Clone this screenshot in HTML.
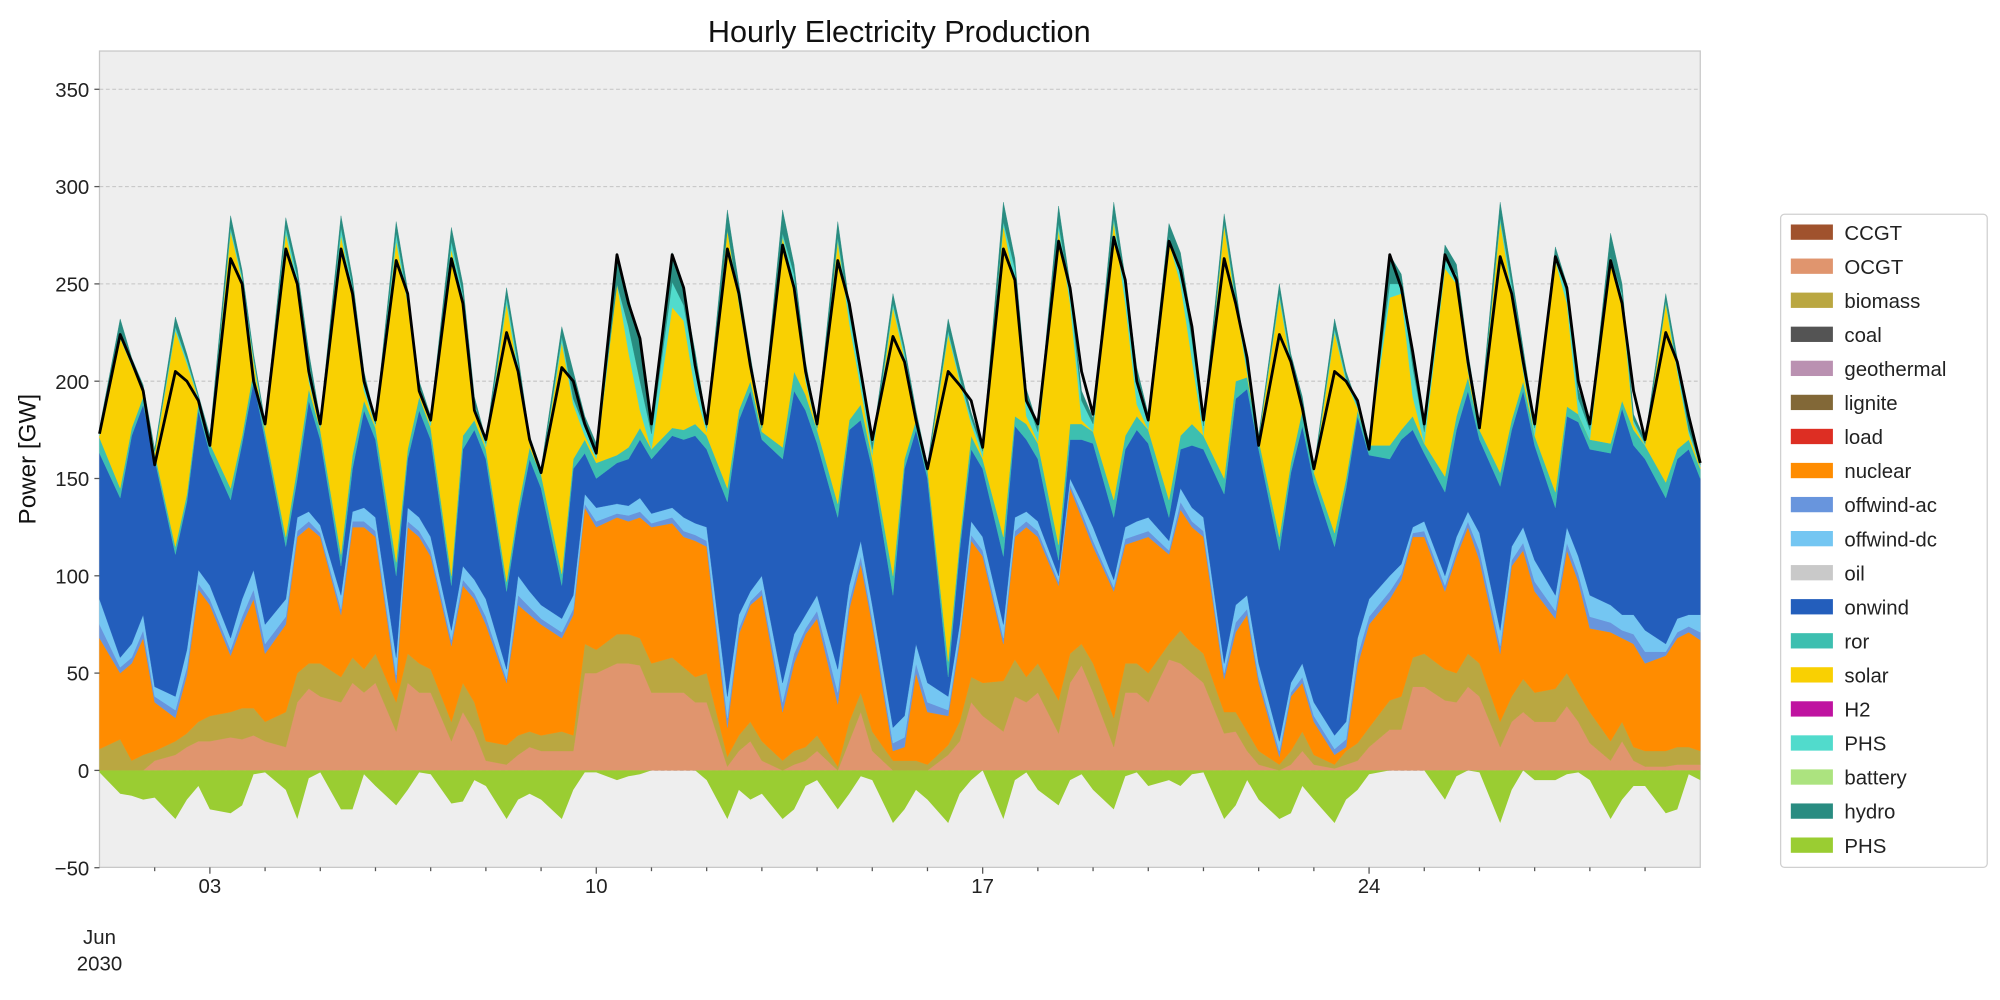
<!DOCTYPE html>
<html><head><meta charset="utf-8"><style>
html,body{margin:0;padding:0;background:#fff;}
svg{display:block;font-family:"Liberation Sans","DejaVu Sans",sans-serif;}
</style></head><body>
<svg id="chart" width="2000" height="1000" viewBox="0 0 1568 784" xmlns="http://www.w3.org/2000/svg">
<rect x="0" y="0" width="1568" height="784" fill="#fff"/>
<text x="705" y="33" font-size="24" text-anchor="middle" fill="#111">Hourly Electricity Production</text>
<rect x="78" y="40" width="1255" height="640" fill="#eeeeee" stroke="#c8c8c8" stroke-width="1"/>
<g id="grid"></g>
<g id="areas"></g>
<g id="lines"></g>
<g id="axes"></g>
<text transform="translate(28,360) rotate(-90)" font-size="19" text-anchor="middle" fill="#111">Power [GW]</text>
<g id="legend"></g>
</svg>
<script>
const sampleHours = [0, 9, 14, 19];
const dayCount = 29;
const yTicks = [-50, 0, 50, 100, 150, 200, 250, 300, 350];
const xTickDays = [2, 9, 16, 23];
const xTickLabels = ["03", "10", "17", "24"];
const ocgt = [0,0,0,0, 5,8,12,15, 15,17,16,18, 15,12,35,42, 38,35,45,40, 45,20,45,40, 40,15,30,20, 5,3,8,12, 10,10,10,50, 50,55,55,54, 40,40,40,35, 35,2,10,15, 5,0,3,5, 10,0,15,30, 10,0,0,0, 0,8,15,35, 28,20,38,35, 40,19,45,54, 40,12,40,40, 35,57,55,50, 45,19,20,10, 3,0,3,10, 3,1,3,5, 12,21,21,43, 43,36,35,43, 38,12,25,30, 25,25,33,25, 14,5,15,5, 2,2,3,3, 3];
const biomass = [11,16,5,8, 5,7,7,10, 13,13,16,14, 10,18,15,13, 17,13,13,12, 15,15,15,15, 12,10,15,15, 10,10,10,8, 8,10,8,15, 12,15,15,14, 15,18,13,13, 15,5,8,10, 10,5,7,7, 8,2,10,10, 10,5,5,5, 3,5,10,13, 17,26,19,13, 15,17,15,11, 15,15,15,15, 15,8,17,15, 15,11,10,10, 7,3,7,10, 5,2,7,9, 10,15,17,15, 17,16,15,17, 17,13,13,17, 15,17,17,15, 16,10,10,7, 8,8,9,9, 7];
const nuclear = [57,34,50,60, 25,12,30,68, 57,29,43,56, 35,45,70,70, 65,32,67,73, 60,10,65,65, 58,39,50,53, 60,32,67,60, 57,48,62,70, 63,60,58,62, 70,69,67,70, 65,15,52,60, 75,25,45,58, 60,32,58,66, 55,5,7,45, 27,15,41,70, 65,19,63,77, 65,59,85,65, 60,65,61,63, 70,46,62,60, 60,17,41,60, 35,4,28,25, 17,5,2,40, 53,52,60,62, 60,40,60,65, 53,35,67,66, 52,36,63,57, 43,56,43,53, 45,49,56,59, 57];
const offwindAc = [7,3,3,4, 3,4,4,3, 3,3,4,5, 5,4,3,3, 2,3,3,3, 3,4,3,3, 3,3,3,3, 4,2,5,4, 3,3,3,2, 3,2,3,3, 2,3,3,3, 3,5,3,2, 3,5,5,3, 4,6,4,4, 3,4,5,5, 5,3,3,3, 3,3,3,3, 3,2,2,3, 3,2,3,3, 3,2,4,3, 3,3,5,3, 3,3,2,3, 3,3,4,5, 4,4,3,2, 3,3,3,3, 5,4,3,4, 5,4,4,4, 6,5,4,5, 6,2,3,3, 4];
const offwindDc = [13,5,7,8, 5,7,9,7, 7,6,9,10, 10,9,7,5, 4,7,5,7, 7,9,7,7, 7,5,7,7, 9,5,10,8, 7,7,7,5, 7,5,5,7, 5,5,7,6, 7,11,7,5, 7,10,10,7, 8,12,8,8, 7,8,11,10, 10,7,6,7, 7,7,7,5, 5,3,3,5, 7,4,6,7, 7,5,7,7, 7,5,9,7, 7,5,5,7, 7,7,9,9, 9,8,5,3, 5,5,7,5, 9,8,7,8, 11,8,8,9, 11,9,8,10, 11,4,7,6, 9];
const onwind = [75,82,107,108, 117,73,76,82, 68,71,80,97, 95,27,20,57, 44,15,22,50, 40,42,25,55, 50,23,60,77, 72,40,30,68, 60,17,65,21, 15,21,24,30, 28,37,40,45, 40,100,100,103, 70,115,125,105, 78,78,80,62, 70,68,127,110, 105,10,38,37, 35,35,47,37, 32,8,20,32, 43,32,40,47, 38,12,20,32, 35,87,106,106, 110,98,108,122, 113,97,120,114, 74,60,64,50, 35,43,55,62, 48,74,60,70, 59,45,57,69, 75,78,106,87, 88,75,82,85, 70];
const ror = [8,5,4,4, 3,4,4,4, 5,6,4,6, 4,5,6,6, 5,6,7,5, 6,7,5,7, 6,5,7,5, 5,5,5,6, 7,6,5,7, 8,4,6,6, 5,4,5,6, 7,7,5,5, 4,6,10,8, 7,7,5,8, 5,10,5,5, 5,8,5,7, 5,10,5,8, 8,8,8,8, 6,9,7,7, 7,9,7,11, 7,8,9,6, 5,7,5,8, 5,7,5,3, 5,7,5,7, 5,8,7,7, 5,7,5,5, 5,8,5,4, 5,5,4,8, 7,8,5,5, 5];
const solar = [1,77,32,3, 0,111,67,2, 0,132,80,4, 2,156,94,4, 1,164,83,5, 1,165,75,3, 1,168,68,5, 1,143,70,2, 0,119,28,2, 2,88,49,9, 0,62,56,17, 2,133,55,5, 1,108,45,7, 0,135,50,8, 2,138,52,2, 0,168,82,6, 1,160,68,4, 1,162,62,2, 0,143,68,6, 0,133,78,33, 0,130,40,2, 0,123,50,2, 0,103,50,1, 0,76,70,10, 0,107,68,3, 0,129,65,5, 0,119,53,0, 0,96,50,3, 0,92,40,3, 1];
const phs = [2,3,1,1, 1,2,2,1, 2,2,2,2, 2,3,4,10, 2,4,4,6, 1,4,3,3, 3,4,5,4, 2,3,4,2, 1,3,3,4, 3,0,13,15, 8,13,8,12, 2,0,3,5, 1,2,5,5, 1,2,5,6, 3,2,3,1, 1,2,2,3, 3,2,8,9, 5,3,6,10, 4,2,8,12, 5,2,8,10, 5,1,3,2, 1,2,3,2, 1,2,2,1, 1,7,5,15, 6,4,5,6, 2,2,5,8, 4,2,5,8, 5,0,5,2, 1,1,3,2, 1];
const hydro = [2,7,3,2, 1,5,3,1, 2,6,3,2, 1,5,4,5, 2,6,4,4, 2,6,4,2, 2,7,5,3, 2,5,4,2, 2,5,14,6, 5,15,15,20, 5,15,8,8, 3,10,7,3, 2,12,5,5, 2,8,5,4, 3,5,3,2, 1,6,5,3, 2,10,5,5, 3,9,4,5, 3,8,5,7, 3,7,8,8, 3,5,5,2, 1,5,3,3, 1,5,3,1, 1,15,5,8, 3,8,5,4, 1,8,5,4, 2,5,5,5, 3,12,5,3, 2,4,4,4, 1];
const phsCharge = [-1,-12,-13,-15, -14,-25,-15,-8, -20,-22,-18,-2, -1,-10,-25,-4, -1,-20,-20,-2, -8,-18,-10,-1, -2,-17,-16,-5, -8,-25,-15,-12, -15,-25,-10,-1, -1,-5,-3,-2, 0,0,0,0, -5,-25,-10,-15, -12,-25,-20,-8, -5,-20,-12,-3, -5,-27,-20,-10, -15,-27,-12,-5, 0,-25,-5,-1, -10,-18,-5,-2, -10,-20,-3,-1, -8,-5,-8,-2, -1,-25,-18,-5, -15,-25,-22,-8, -15,-27,-15,-10, -2,0,0,0, 0,-15,-3,0, -1,-27,-10,0, -5,-5,-2,-1, -5,-25,-15,-8, -8,-22,-20,-2, -5];
const load = [173,224,210,195, 157,205,200,190, 167,263,250,200, 178,268,250,205, 178,268,245,200, 180,262,245,195, 180,263,240,185, 170,225,205,170, 153,207,200,178, 163,265,240,222, 178,265,248,208, 178,268,245,208, 178,270,248,205, 178,262,240,205, 170,223,210,180, 155,205,198,190, 166,268,252,190, 178,272,248,205, 183,274,252,200, 180,272,257,228, 180,263,240,212, 167,224,210,186, 155,205,200,190, 165,265,248,215, 178,265,252,210, 176,264,245,210, 178,264,248,200, 178,262,240,195, 170,225,210,182, 158];

const NS = "http://www.w3.org/2000/svg";
const X0 = 78, X1 = 1333, Y0 = 604, PXGW = 534 / 350;
const xOf = h => X0 + (h / (dayCount * 24)) * (X1 - X0);
const yOf = v => Y0 - v * PXGW;
const times = [];
for (let d = 0; d < dayCount; d++) for (const h of sampleHours) times.push(d * 24 + h);
times.push(dayCount * 24);
function mk(tag, attrs, parent) {
  const el = document.createElementNS(NS, tag);
  for (const k in attrs) el.setAttribute(k, attrs[k]);
  parent.appendChild(el);
  return el;
}
const grid = document.getElementById('grid');
const axes = document.getElementById('axes');
yTicks.forEach(v => {
  const y = yOf(v);
  if (v > -50) {
    const gl = mk('line', {x1: X0, x2: X1, y1: y, y2: y, stroke: '#c4c4c4', 'stroke-width': 0.8, 'stroke-dasharray': '3,2'}, grid);
    
    
  }
  const tk = mk('line', {x1: X0 - 4, x2: X0, y1: y, y2: y, stroke: '#555', 'stroke-width': 1}, axes);
  
  
  const t = mk('text', {x: X0 - 8, y: y + 6, 'font-size': 16, 'text-anchor': 'end', fill: '#222'}, axes);
  t.textContent = String(v).replace('-', '\u2212');
  
  
});
for (let d = 1; d < dayCount; d++) {
  const x = xOf(d * 24);
  const major = xTickDays.indexOf(d) >= 0;
  const tk = mk('line', {x1: x, x2: x, y1: 680, y2: major ? 685 : 683, stroke: '#555', 'stroke-width': 1}, axes);
  
  
}
xTickDays.forEach((d, i) => {
  const t = mk('text', {x: xOf(d * 24), y: 700, 'font-size': 16, 'text-anchor': 'middle', fill: '#222'}, axes);
  t.textContent = xTickLabels[i];
  
  
});
const jl = mk('text', {x: 78, y: 740, 'font-size': 16, 'text-anchor': 'middle', fill: '#222'}, axes);
jl.textContent = 'Jun';


const yl = mk('text', {x: 78, y: 761, 'font-size': 16, 'text-anchor': 'middle', fill: '#222'}, axes);
yl.textContent = '2030';



const stack = [
  ['ocgt', ocgt, '#e0956e'], ['biomass', biomass, '#baa741'], ['nuclear', nuclear, '#ff8c00'],
  ['offwind-ac', offwindAc, '#6895dd'], ['offwind-dc', offwindDc, '#74c6f2'], ['onwind', onwind, '#235ebc'],
  ['ror', ror, '#3dbfb0'], ['solar', solar, '#f9d002'], ['phs', phs, '#51dbcc'], ['hydro', hydro, '#298c81']
];
const areas = document.getElementById('areas');
const base = times.map(() => 0);
stack.forEach(([name, vals, col]) => {
  const top = base.map((b, i) => b + vals[i]);
  let d = 'M' + times.map((t, i) => xOf(t).toFixed(2) + ',' + yOf(top[i]).toFixed(2)).join(' L');
  for (let i = times.length - 1; i >= 0; i--) d += ' L' + xOf(times[i]).toFixed(2) + ',' + yOf(base[i]).toFixed(2);
  const p = mk('path', {d: d + 'Z', fill: col, stroke: col, 'stroke-width': 0.3}, areas);
  
  
  top.forEach((v, i) => base[i] = v);
});
{
  let d = 'M' + times.map((t, i) => xOf(t).toFixed(2) + ',' + yOf(phsCharge[i]).toFixed(2)).join(' L');
  d += ' L' + xOf(times[times.length - 1]) + ',' + Y0 + ' L' + xOf(0) + ',' + Y0 + 'Z';
  const p = mk('path', {d: d, fill: '#9acd32'}, areas);
  
  
}
{
  const d = 'M' + times.map((t, i) => xOf(t).toFixed(2) + ',' + yOf(load[i]).toFixed(2)).join(' L');
  const p = mk('path', {d: d, fill: 'none', stroke: '#000', 'stroke-width': 2.2, 'stroke-linejoin': 'round'}, document.getElementById('lines'));
  
  
}
const legendNames = ['CCGT','OCGT','biomass','coal','geothermal','lignite','load','nuclear','offwind-ac','offwind-dc','oil','onwind','ror','solar','H2','PHS','battery','hydro','PHS'];
const legendColors = ['#a0522d','#e0956e','#baa741','#545454','#ba91b1','#826837','#dd2e23','#ff8c00','#6895dd','#74c6f2','#c9c9c9','#235ebc','#3dbfb0','#f9d002','#bf13a0','#51dbcc','#ace37f','#298c81','#9acd32'];
const lg = document.getElementById('legend');
mk('rect', {x: 1396, y: 168, width: 162, height: 512, rx: 3, fill: '#fff', stroke: '#d0d0d0', 'stroke-width': 1}, lg);
legendNames.forEach((n, i) => {
  const y = 182 + i * 26.7;
  const g = mk('g', {}, lg);
  
  
  mk('rect', {x: 1404, y: y - 6, width: 33, height: 12, fill: legendColors[i]}, g);
  const t = mk('text', {x: 1446, y: y + 6, 'font-size': 16, fill: '#222'}, g);
  t.textContent = n;
});
</script>
</body></html>
